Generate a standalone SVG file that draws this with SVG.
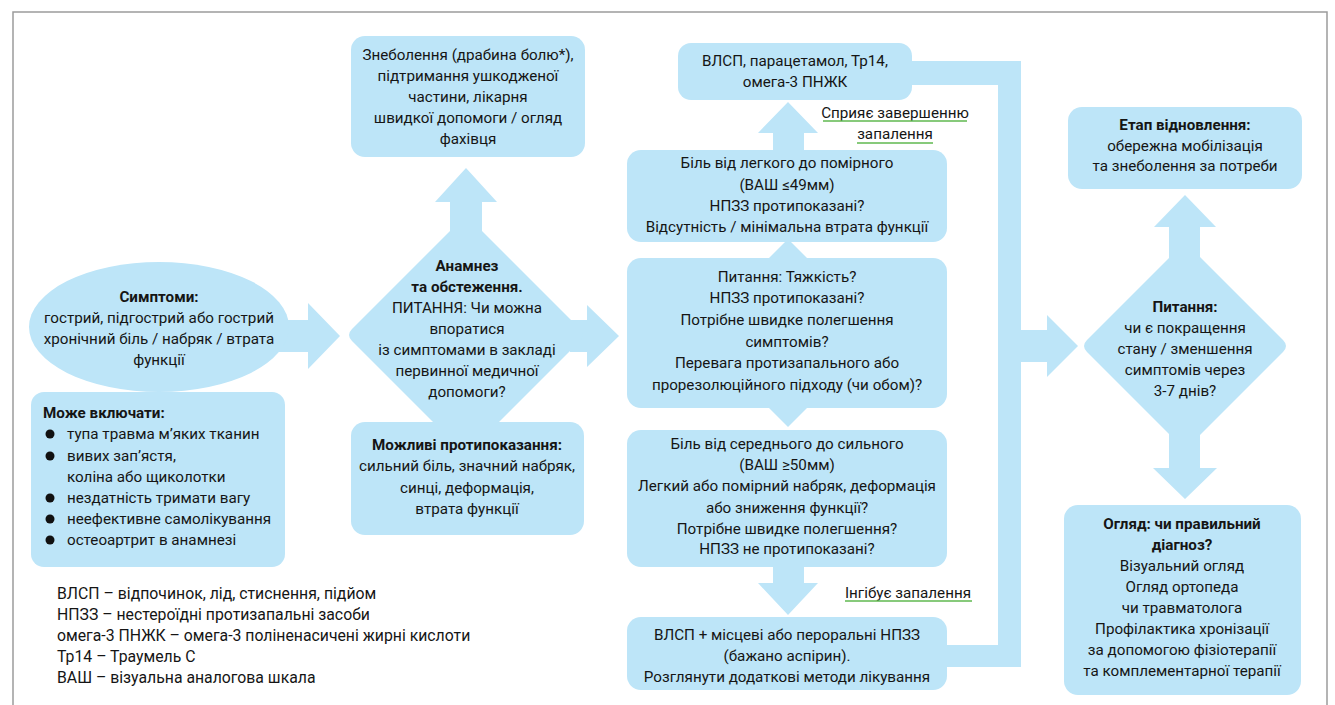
<svg xmlns="http://www.w3.org/2000/svg" width="1335" height="705" viewBox="0 0 1335 705">
<style>
  .n{fill:#bde5f8;}
  text{font-family:Roboto,"Liberation Sans",sans-serif;font-size:15.2px;fill:#151515;}
  .c{text-anchor:middle;}
  .b{font-weight:bold;}
  .lg{font-size:15.8px;}
  .ul{stroke:#5fb94f;stroke-width:1.5;fill:none;}
  .frame{stroke:#9c9c9c;stroke-width:1.5;fill:none;}
</style>
<rect width="1335" height="705" fill="#ffffff"/>
<path class="frame" d="M13,705 V12 H1327 V705"/>

<g id="connectors">
  <polygon class="n" points="270,320 308,320 308,303 340,336 308,369 308,352 270,352"/>
  <polygon class="n" points="450,240 450,202 435,202 466,168 497,202 482,202 482,240"/>
  <polygon class="n" points="570,320 587,320 587,305 619,336 587,367 587,352 570,352"/>
  <polygon class="n" points="773,152 773,133 758,133 788,102 818,133 804,133 804,152"/>
  <polygon class="n" points="773,565 773,583 758,583 788,615 818,583 804,583 804,565"/>
  <polygon class="n" points="910,61 1021,61 1021,667 945,667 945,645 998,645 998,85 910,85"/>
  <polygon class="n" points="1019,330 1047,330 1047,315 1078,346 1047,377 1047,362 1019,362"/>
  <polygon class="n" points="1169,262 1169,227 1154,227 1185,195 1216,227 1200,227 1200,262"/>
  <polygon class="n" points="1169,430 1169,468 1153,468 1185,499 1217,468 1200,468 1200,430"/>
</g>

<g id="symptoms">
  <ellipse class="n" cx="159" cy="327" rx="130" ry="65"/>
  <text class="c b" x="159" y="302">Симптоми:</text>
  <text class="c" x="159" y="323">гострий, підгострий або гострий</text>
  <text class="c" x="159" y="344">хронічний біль / набряк / втрата</text>
  <text class="c" x="159" y="365">функції</text>
</g>

<g id="may-include">
  <rect class="n" x="31" y="392" width="254" height="175" rx="13"/>
  <text class="b" x="43" y="418">Може включати:</text>
  <circle cx="50" cy="434" r="4.5" fill="#111"/>
  <text x="67" y="439">тупа травма м’яких тканин</text>
  <circle cx="50" cy="456" r="4.5" fill="#111"/>
  <text x="67" y="461">вивих зап’ястя,</text>
  <text x="67" y="482">коліна або щиколотки</text>
  <circle cx="50" cy="498" r="4.5" fill="#111"/>
  <text x="67" y="503">нездатність тримати вагу</text>
  <circle cx="50" cy="519" r="4.5" fill="#111"/>
  <text x="67" y="524">неефективне самолікування</text>
  <circle cx="50" cy="540" r="4.5" fill="#111"/>
  <text x="67" y="545">остеоартрит в анамнезі</text>
</g>

<g id="legend">
  <text class="lg" x="57" y="599">ВЛСП – відпочинок, лід, стиснення, підйом</text>
  <text class="lg" x="57" y="620">НПЗЗ – нестероїдні протизапальні засоби</text>
  <text class="lg" x="57" y="641">омега-3 ПНЖК – омега-3 поліненасичені жирні кислоти</text>
  <text class="lg" x="57" y="662">Тр14 – Траумель С</text>
  <text class="lg" x="57" y="683">ВАШ – візуальна аналогова шкала</text>
</g>

<g id="analgesia">
  <rect class="n" x="351" y="36" width="234" height="121" rx="14"/>
  <text class="c" x="468" y="60">Знеболення (драбина болю*),</text>
  <text class="c" x="468" y="81">підтримання ушкодженої</text>
  <text class="c" x="468" y="102">частини, лікарня</text>
  <text class="c" x="468" y="123">швидкої допомоги / огляд</text>
  <text class="c" x="468" y="144">фахівця</text>
</g>

<g id="anamnesis">
  <path class="n" d="M466,215 L580,329 Q586,335 580,341 L466,455 L352,341 Q346,335 352,329 Z"/>
  <text class="c b" x="467" y="271">Анамнез</text>
  <text class="c b" x="467" y="292">та обстеження.</text>
  <text class="c" x="467" y="313">ПИТАННЯ: Чи можна</text>
  <text class="c" x="467" y="334">впоратися</text>
  <text class="c" x="467" y="355">із симптомами в закладі</text>
  <text class="c" x="467" y="376">первинної медичної</text>
  <text class="c" x="467" y="397">допомоги?</text>
</g>

<g id="contraindications">
  <rect class="n" x="351" y="422" width="233" height="113" rx="14"/>
  <text class="c b" x="467" y="450">Можливі протипоказання:</text>
  <text class="c" x="467" y="471">сильний біль, значний набряк,</text>
  <text class="c" x="467" y="493">синці, деформація,</text>
  <text class="c" x="467" y="514">втрата функції</text>
</g>

<g id="rice-paracetamol">
  <rect class="n" x="678" y="43" width="234" height="57" rx="13"/>
  <text class="c" x="795" y="66">ВЛСП, парацетамол, Тр14,</text>
  <text class="c" x="795" y="87">омега-3 ПНЖК</text>
</g>

<g id="label-resolution">
  <text class="c" x="895" y="118">Сприяє завершенню</text>
  <line class="ul" x1="823" y1="121" x2="967" y2="121"/>
  <text class="c" x="895" y="139">запалення</text>
  <line class="ul" x1="857" y1="143" x2="933" y2="143"/>
</g>

<g id="mild-pain">
  <rect class="n" x="627" y="150" width="320" height="92" rx="14"/>
  <text class="c" x="787" y="168">Біль від легкого до помірного</text>
  <text class="c" x="787" y="190">(ВАШ ≤49мм)</text>
  <text class="c" x="787" y="211">НПЗЗ протипоказані?</text>
  <text class="c" x="787" y="232">Відсутність / мінімальна втрата функції</text>
</g>

<g id="question-severity">
  <rect class="n" x="627" y="258" width="320" height="150" rx="14"/>
  <polygon class="n" points="768,259 788,239 808,259"/>
  <polygon class="n" points="768,407 788,427 808,407"/>
  <text class="c" x="787" y="282">Питання: Тяжкість?</text>
  <text class="c" x="787" y="303">НПЗЗ протипоказані?</text>
  <text class="c" x="787" y="325">Потрібне швидке полегшення</text>
  <text class="c" x="787" y="347">симптомів?</text>
  <text class="c" x="787" y="368">Перевага протизапального або</text>
  <text class="c" x="787" y="390">прорезолюційного підходу (чи обом)?</text>
</g>

<g id="moderate-pain">
  <rect class="n" x="627" y="430" width="320" height="137" rx="14"/>
  <text class="c" x="787" y="449">Біль від середнього до сильного</text>
  <text class="c" x="787" y="470">(ВАШ ≥50мм)</text>
  <text class="c" x="787" y="491">Легкий або помірний набряк, деформація</text>
  <text class="c" x="787" y="513">або зниження функції?</text>
  <text class="c" x="787" y="534">Потрібне швидке полегшення?</text>
  <text class="c" x="787" y="554">НПЗЗ не протипоказані?</text>
</g>

<g id="label-inhibit">
  <text class="c" x="908" y="598">Інгібує запалення</text>
  <line class="ul" x1="845" y1="601" x2="972" y2="601"/>
</g>

<g id="rice-nsaid">
  <rect class="n" x="627" y="617" width="320" height="73" rx="14"/>
  <text class="c" x="787" y="640">ВЛСП + місцеві або пероральні НПЗЗ</text>
  <text class="c" x="787" y="661">(бажано аспірин).</text>
  <text class="c" x="787" y="682">Розглянути додаткові методи лікування</text>
</g>

<g id="question-improve">
  <path class="n" d="M1185,242 L1283,340 Q1289,346 1283,352 L1185,450 L1087,352 Q1081,346 1087,340 Z"/>
  <text class="c b" x="1185" y="312">Питання:</text>
  <text class="c" x="1185" y="333">чи є покращення</text>
  <text class="c" x="1185" y="354">стану / зменшення</text>
  <text class="c" x="1185" y="375">симптомів через</text>
  <text class="c" x="1185" y="396">3-7 днів?</text>
</g>

<g id="recovery">
  <rect class="n" x="1068" y="107" width="234" height="82" rx="14"/>
  <text class="c b" x="1185" y="130">Етап відновлення:</text>
  <text class="c" x="1185" y="151">обережна мобілізація</text>
  <text class="c" x="1185" y="171">та знеболення за потреби</text>
</g>

<g id="review">
  <rect class="n" x="1064" y="505" width="237" height="190" rx="14"/>
  <text class="c b" x="1182" y="529">Огляд: чи правильний</text>
  <text class="c b" x="1182" y="550">діагноз?</text>
  <text class="c" x="1182" y="571">Візуальний огляд</text>
  <text class="c" x="1182" y="592">Огляд ортопеда</text>
  <text class="c" x="1182" y="613">чи травматолога</text>
  <text class="c" x="1182" y="634">Профілактика хронізації</text>
  <text class="c" x="1182" y="655">за допомогою фізіотерапії</text>
  <text class="c" x="1182" y="676">та комплементарної терапії</text>
</g>
</svg>
